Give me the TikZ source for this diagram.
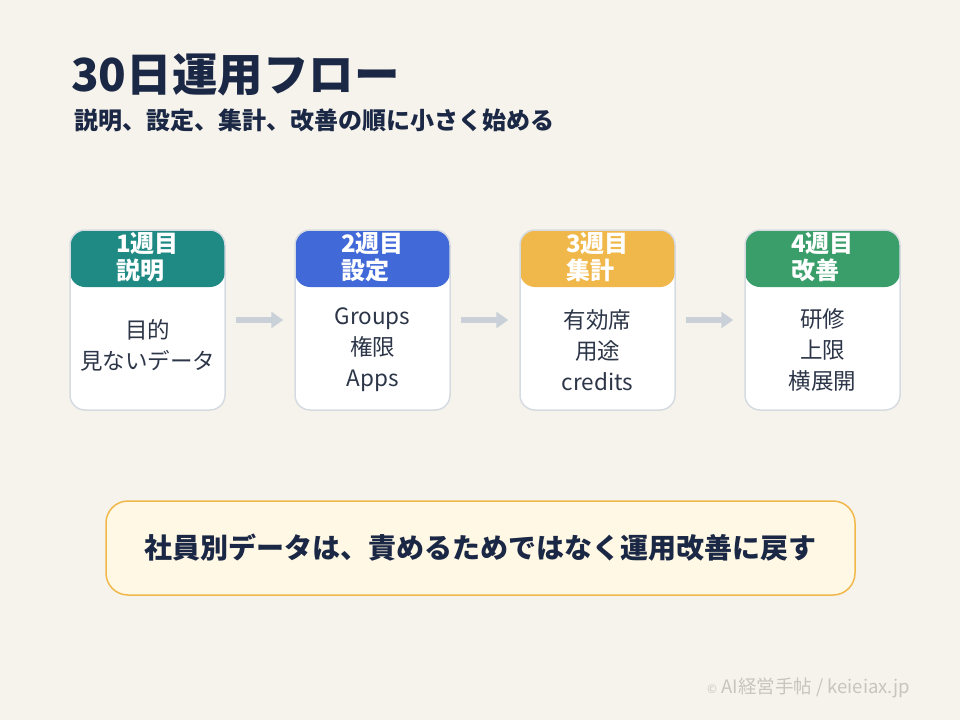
\documentclass[tikz,border=0pt]{standalone}
\usepackage{fontspec}
\setmainfont{Noto Sans CJK JP}
\usetikzlibrary{arrows.meta}
\definecolor{bg}{HTML}{F6F3EC}
\definecolor{navy}{HTML}{1B2845}
\definecolor{bodytxt}{HTML}{2D3648}
\definecolor{cardline}{HTML}{D6DBE1}
\definecolor{hteal}{HTML}{1F8A84}
\definecolor{hblue}{HTML}{4169D8}
\definecolor{hyellow}{HTML}{F0B84B}
\definecolor{hgreen}{HTML}{3A9E6A}
\definecolor{arrgray}{HTML}{C9D0D8}
\definecolor{notefill}{HTML}{FFF8E4}
\definecolor{notebord}{HTML}{F0B84B}
\definecolor{foot}{HTML}{C8C5BE}
\tikzset{
  card/.style={draw=cardline, line width=1.5pt, fill=white, rounded corners=15pt,
    minimum width=155pt, minimum height=180pt, inner sep=0pt,
    path picture={\fill[#1] (path picture bounding box.north west) rectangle ([yshift=-57pt]path picture bounding box.north east);}},
  headtxt/.style={text=white, font=\fontsize{24}{27}\selectfont\bfseries, align=left, inner sep=0pt},
  bodytext/.style={text=bodytxt, font=\fontsize{22.5}{31}\selectfont, align=center, inner sep=0pt},
  flowarr/.style={draw=arrgray, line width=6.5pt, -{Triangle[length=12pt,width=16pt]}},
}
\begin{document}
\begin{tikzpicture}[x=1pt,y=-1pt]
\fill[bg] (0,0) rectangle (960,720);
\useasboundingbox (0,0) rectangle (960,720);
% title
\node[anchor=west, text=navy, inner sep=0pt, font=\fontsize{45.5}{50}\selectfont\bfseries] (title) at (71,75) {30日運用フロー};
\node[anchor=west, text=navy, inner sep=0pt, font=\fontsize{24}{28}\selectfont\bfseries] (sub) at (74,120) {説明、設定、集計、改善の順に小さく始める};
% cards
\node[card=hteal] (c1) at (147.5,320) {};
\node[card=hblue] (c2) at (372.5,320) {};
\node[card=hyellow] (c3) at (597.5,320) {};
\node[card=hgreen] (c4) at (822.5,320) {};
% headers
\node[headtxt] (h1) at (147.5,257) {1週目\\説明};
\node[headtxt] (h2) at (372.5,257) {2週目\\設定};
\node[headtxt] (h3) at (597.5,257) {3週目\\集計};
\node[headtxt] (h4) at (822.5,257) {4週目\\改善};
% bodies
\node[bodytext] (b1) at (147.5,345) {目的\\見ないデータ};
\node[bodytext] (b2) at (372.5,350) {Groups\\権限\\Apps};
\node[bodytext] (b3) at (597.5,350) {有効席\\用途\\credits};
\node[bodytext] (b4) at (822.5,350) {研修\\上限\\横展開};
% arrows
\draw[flowarr] ([xshift=10pt]c1.east) -- ([xshift=-11pt]c2.west);
\draw[flowarr] ([xshift=10pt]c2.east) -- ([xshift=-11pt]c3.west);
\draw[flowarr] ([xshift=10pt]c3.east) -- ([xshift=-11pt]c4.west);
% note
\node[draw=notebord, fill=notefill, line width=1.5pt, rounded corners=22pt, minimum width=749pt, minimum height=94pt, inner sep=0pt] (note) at (480.5,548) {};
\node[text=navy, inner sep=0pt, font=\fontsize{28}{32}\selectfont\bfseries] (notetxt) at (note.center) {社員別データは、責めるためではなく運用改善に戻す};
% footer
\node[anchor=east, text=foot, inner sep=0pt, font=\fontsize{18.5}{22}\selectfont] (footer) at (910,688) {{\fontsize{12}{13}\selectfont ©} AI経営手帖 / keieiax.jp};
\end{tikzpicture}
\end{document}
